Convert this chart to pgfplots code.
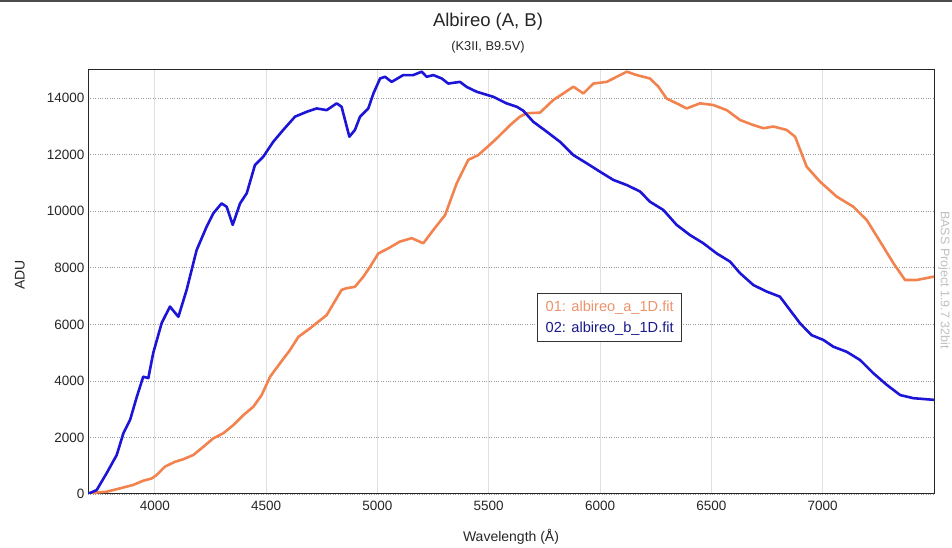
\documentclass[border=0pt]{standalone}
\usepackage{fontspec}
\setmainfont{Liberation Sans}
\usepackage{pgfplots}
\pgfplotsset{compat=1.18}
\definecolor{blueC}{RGB}{28,20,215}
\definecolor{orangeC}{RGB}{242,130,78}
\definecolor{legOr}{RGB}{236,148,108}
\definecolor{legBl}{RGB}{25,25,140}
\begin{document}
\begin{tikzpicture}[x=1pt,y=1pt]
\useasboundingbox (0,0) rectangle (952,548);
\fill[black!70] (0,546) rectangle (952,548);
\begin{axis}[
  at={(88pt,54pt)}, anchor=south west, scale only axis,
  width=846pt, height=424pt,
  xmin=3700, xmax=7500, ymin=0, ymax=15000,
  xtick={4000,4500,...,7000}, ytick={0,2000,...,14000},
  grid=major,
  x grid style={black!12, line width=0.8pt},
  y grid style={black!40, dotted, line width=0.8pt},
  axis line style={black!85, line width=1pt},
  tick style={draw=none},
  ticklabel style={font=\fontsize{13.5}{15}\selectfont, text=black!85},
  xticklabel style={yshift=-4pt},
  /pgf/number format/assume math mode=true,
  /pgf/number format/set thousands separator={},
  scaled ticks=false,
  legend cell align=left,
  legend image code/.code={},
  legend style={at={(0.531,0.474)}, anchor=north west, draw=black!80, line width=1pt,
    font=\fontsize{14.6}{16}\selectfont, inner xsep=6pt, inner ysep=5.5pt, row sep=5pt},
]
\addplot[orangeC, line width=2.6pt, line join=round] coordinates {
(3700,0) (3709,35) (3784,80) (3844,200) (3903,320) (3948,470) (3986,550) (4008,670)
(4046,970) (4091,1140) (4128,1230) (4173,1380) (4218,1670) (4263,1970) (4308,2150)
(4353,2440) (4398,2790) (4443,3090) (4480,3500) (4518,4150) (4562,4620) (4607,5090)
(4645,5560) (4697,5860) (4772,6330) (4839,7220) (4862,7280) (4899,7330) (4937,7690)
(4967,8040) (5004,8510) (5049,8690) (5101,8930) (5154,9050) (5206,8870) (5251,9340)
(5304,9870) (5356,10990) (5408,11820) (5453,11990) (5528,12520) (5596,13050) (5640,13350)
(5670,13470) (5730,13490) (5790,13940) (5835,14170) (5880,14410) (5925,14170) (5970,14520)
(6030,14580) (6075,14760) (6120,14940) (6165,14820) (6224,14700) (6262,14410) (6299,13990)
(6344,13820) (6389,13640) (6449,13820) (6509,13760) (6569,13580) (6629,13230) (6689,13050)
(6734,12940) (6779,13000) (6838,12880) (6876,12640) (6928,11580) (6988,11050) (7063,10520)
(7138,10160) (7198,9690) (7258,8930) (7318,8160) (7370,7570) (7422,7570) (7500,7690)
};
\addlegendentry{\textcolor{legOr}{01: albireo\_a\_1D.fit}}
\addplot[blueC, line width=2.6pt, line join=round] coordinates {
(3700,0) (3709,35) (3739,140) (3784,740) (3829,1380) (3859,2150) (3889,2620) (3919,3430)
(3948,4150) (3971,4100) (3993,4990) (4031,6050) (4068,6630) (4106,6270) (4143,7220)
(4188,8630) (4233,9460) (4263,9930) (4300,10280) (4323,10160) (4350,9520) (4383,10280)
(4413,10640) (4450,11640) (4487,11930) (4532,12460) (4577,12880) (4630,13350) (4682,13520)
(4727,13640) (4772,13580) (4817,13820) (4839,13700) (4874,12640) (4899,12880) (4922,13350)
(4959,13640) (4982,14170) (5012,14700) (5034,14760) (5064,14580) (5116,14820) (5161,14820)
(5199,14940) (5221,14760) (5251,14820) (5289,14700) (5318,14520) (5371,14580) (5401,14400)
(5446,14230) (5521,14050) (5580,13820) (5626,13700) (5655,13560) (5700,13170) (5760,12820)
(5820,12460) (5880,11990) (5940,11700) (6000,11400) (6060,11110) (6120,10930) (6180,10700)
(6224,10340) (6284,10050) (6344,9520) (6404,9160) (6464,8870) (6524,8510) (6584,8220)
(6629,7810) (6689,7390) (6749,7160) (6808,6980) (6853,6510) (6898,6040) (6950,5620)
(7003,5450) (7048,5210) (7108,5030) (7168,4740) (7228,4270) (7288,3860) (7348,3500)
(7407,3390) (7500,3330)
};
\addlegendentry{\textcolor{legBl}{02: albireo\_b\_1D.fit}}
\end{axis}
\node[font=\fontsize{18.5}{20}\selectfont, text=black!85] at (488,526) {Albireo (A, B)};
\node[font=\fontsize{12.8}{14}\selectfont, text=black!85] at (488,501) {(K3II, B9.5V)};
\node[font=\fontsize{14}{16}\selectfont, text=black!85] at (511,11) {Wavelength (Å)};
\node[font=\fontsize{14}{16}\selectfont, text=black!85, rotate=90] at (20,273) {ADU};
\node[font=\fontsize{12.5}{14}\selectfont, text=black!25, rotate=-90] at (944,268) {BASS Project 1.9.7 32bit};
\end{tikzpicture}
\end{document}
